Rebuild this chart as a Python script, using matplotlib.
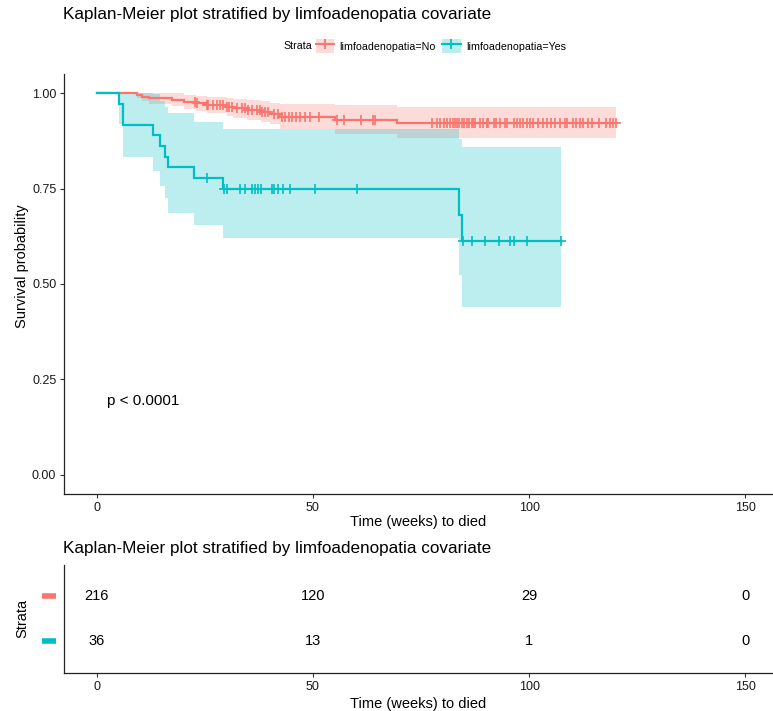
import numpy as np
import matplotlib
matplotlib.use("Agg")
import matplotlib.pyplot as plt
from matplotlib.patches import Patch
from matplotlib.lines import Line2D
import matplotlib.transforms as mtransforms

plt.rcParams['font.family'] = ['Liberation Sans', 'DejaVu Sans']

# ---------------- data ----------------
title = "Kaplan-Meier plot stratified by limfoadenopatia covariate"
strata_labels = ["limfoadenopatia=No", "limfoadenopatia=Yes"]
colors = ["#F8766D", "#00BFC4"]

# limfoadenopatia = No
times_no = [0, 9.4, 10.5, 12.0, 17.5, 20.1, 23.0, 25.5, 30.1, 31.6, 34.7, 38.0, 40.1, 42.4, 55.1, 69.4]
surv_no = [1.000, 0.995, 0.991, 0.986, 0.982, 0.977, 0.973, 0.969, 0.964, 0.960, 0.955, 0.951, 0.946, 0.938, 0.930, 0.922]
lower_no = [1.000, 0.986, 0.978, 0.971, 0.965, 0.958, 0.952, 0.947, 0.940, 0.935, 0.929, 0.924, 0.918, 0.907, 0.894, 0.882]
upper_no = [1.000, 1.000, 1.000, 1.000, 0.999, 0.996, 0.993, 0.990, 0.987, 0.984, 0.981, 0.978, 0.975, 0.971, 0.968, 0.963]
end_no = 120.2
censor_no = [22.8, 23.3, 25.5, 25.8, 27.0, 27.8, 28.5, 29.3, 30.1, 30.5, 31.2, 32.4, 33.6, 34.3, 35.1,
             35.9, 37.0, 37.8, 38.2, 39.0, 39.7, 40.9, 42.0, 42.8, 43.6, 44.4, 45.1, 46.1, 47.1, 48.2,
             49.4, 51.5, 55.5, 57.1, 61.1, 63.8, 64.4, 77.5, 78.7, 79.4, 80.4, 81.0, 81.8, 82.3, 82.9,
             83.3, 83.8, 84.4, 85.0, 85.6, 86.1, 86.7, 87.1, 87.5, 88.7, 89.4, 90.2, 90.6, 91.8, 92.4,
             93.3, 94.5, 94.8, 96.4, 97.3, 97.9, 98.7, 99.5, 100.2, 101.0, 102.1, 103.3, 104.1, 105.0,
             106.0, 107.2, 108.3, 108.8, 110.1, 110.9, 111.7, 112.4, 113.7, 114.5, 116.1, 117.8, 118.7,
             119.5, 120.2]

# limfoadenopatia = Yes
times_yes = [0, 5.2, 6.0, 13.0, 14.7, 15.7, 16.4, 22.6, 29.3, 83.9, 84.5]
surv_yes = [1.000, 0.972, 0.917, 0.889, 0.861, 0.833, 0.806, 0.778, 0.749, 0.681, 0.612]
lower_yes = [1.000, 0.920, 0.832, 0.795, 0.757, 0.725, 0.686, 0.655, 0.621, 0.523, 0.439]
upper_yes = [1.000, 1.000, 1.000, 0.998, 0.980, 0.963, 0.947, 0.925, 0.905, 0.880, 0.858]
end_yes = 107.4
censor_yes = [25.5, 29.5, 30.1, 33.2, 34.3, 35.9, 36.6, 37.2, 38.0, 40.5, 41.0, 42.0, 43.0, 44.6,
              50.4, 60.2, 84.7, 86.8, 89.8, 93.1, 95.6, 96.6, 99.6, 107.4]

risk_times = [0, 50, 100, 150]
risk_no = [216, 120, 29, 0]
risk_yes = [36, 13, 1, 0]

xticks = [0, 50, 100, 150]
yticks = [0.00, 0.25, 0.50, 0.75, 1.00]
ytick_labels = ["0.00", "0.25", "0.50", "0.75", "1.00"]
pval_text = "p < 0.0001"

# ---------------- figure ----------------
W, H = 773, 711
fig = plt.figure(figsize=(W / 100, H / 100), dpi=100)

def fx(px):
    return px / W

def fy(py):
    return 1 - py / H

XLIM = (-7.56, 156.4)
ax = fig.add_axes([fx(64), fy(494), fx(773) - fx(64), fy(74) - fy(494)])
ax.set_xlim(*XLIM)
ax.set_ylim(-0.05, 1.05)

curves = [
    (times_no, surv_no, lower_no, upper_no, end_no, censor_no, colors[0]),
    (times_yes, surv_yes, lower_yes, upper_yes, end_yes, censor_yes, colors[1]),
]

for t, s, lo, up, end, cens, col in curves:
    tt = np.append(t, end)
    lo2 = np.append(lo, lo[-1])
    up2 = np.append(up, up[-1])
    ax.fill_between(tt, lo2, up2, step='post', color=col, alpha=0.26, linewidth=0)

for t, s, lo, up, end, cens, col in curves:
    tt = np.append(t, end)
    ss = np.append(s, s[-1])
    ax.step(tt, ss, where='post', color=col, lw=1.6, solid_joinstyle='miter')
    idx = np.searchsorted(np.array(t), np.array(cens), side='right') - 1
    cy = np.array(s)[idx]
    ax.plot(cens, cy, linestyle='none', marker='+', ms=6.5, mew=1.2, color=col)

ax.text(2.3, 0.194, pval_text, ha='left', va='center', fontsize=11)

for sp in ['top', 'right']:
    ax.spines[sp].set_visible(False)
for sp in ['left', 'bottom']:
    ax.spines[sp].set_linewidth(0.9)
    ax.spines[sp].set_color('#222222')
ax.set_xticks(xticks)
ax.set_yticks(yticks)
ax.set_yticklabels(ytick_labels)
ax.tick_params(axis='both', direction='out', length=3, width=0.8, color='#333333',
               labelsize=9, labelcolor='#1a1a1a', pad=2.5)
ax.set_xlabel("Time (weeks) to died", fontsize=10.5)
ax.xaxis.set_label_coords(0.5, (494 - 522) / 420)
ax.xaxis.label.set_va('center')
ax.set_ylabel("Survival probability", fontsize=10.5)
ax.yaxis.set_label_coords((22 - 64) / 709, (494 - 266) / 420)
ax.yaxis.label.set_va('center')

# titles
fig.text(fx(63), fy(15), title, ha='left', va='center', fontsize=12.3)
fig.text(fx(63), fy(549), title, ha='left', va='center', fontsize=12.3)

# legend
fig.text(fx(283), fy(46), "Strata", ha='left', va='center', fontsize=7.7)
handles = []
for col in colors:
    handles.append((Patch(facecolor=col, alpha=0.26, edgecolor='none'),
                    Line2D([], [], color=col, lw=1.5, marker='+', ms=7, mew=1.3)))
leg = fig.legend(handles, strata_labels, loc='center left', bbox_to_anchor=(fx(316), fy(46)),
                 ncol=2, frameon=False, fontsize=7.7, handlelength=1.7, handleheight=1.6,
                 handletextpad=0.5, columnspacing=0.6, borderpad=0, borderaxespad=0)

# ---------------- risk table ----------------
tax = fig.add_axes([fx(64), fy(673), fx(773) - fx(64), fy(565) - fy(673)])
tax.set_xlim(*XLIM)
tax.set_ylim(0.29, 2.69)
rows = [(2, risk_no, colors[0]), (1, risk_yes, colors[1])]
for yrow, vals, col in rows:
    for xv, v in zip(risk_times, vals):
        tax.text(xv, yrow, str(v), ha='center', va='center', fontsize=10.5)
    trans = mtransforms.blended_transform_factory(tax.transAxes, tax.transData)
    tax.plot([(42 - 64) / 709, (56 - 64) / 709], [yrow, yrow], color=col, lw=4,
             transform=trans, clip_on=False, solid_capstyle='butt')
tax.set_yticks([])
tax.set_xticks(xticks)
for sp in ['top', 'right']:
    tax.spines[sp].set_visible(False)
for sp in ['left', 'bottom']:
    tax.spines[sp].set_linewidth(0.9)
    tax.spines[sp].set_color('#222222')
tax.tick_params(axis='x', direction='out', length=3, width=0.8, color='#333333',
                labelsize=9, labelcolor='#1a1a1a', pad=2.5)
tax.set_xlabel("Time (weeks) to died", fontsize=10.5)
tax.xaxis.set_label_coords(0.5, (673 - 704) / 108)
tax.xaxis.label.set_va('center')
tax.set_ylabel("Strata", fontsize=10.5)
tax.yaxis.set_label_coords((22 - 64) / 709, (673 - 618) / 108)
tax.yaxis.label.set_va('center')

fig.savefig("out.png", dpi=100)
